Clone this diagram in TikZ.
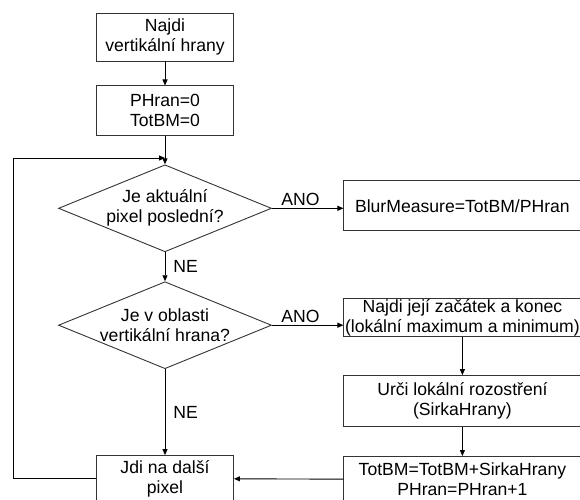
\documentclass[tikz,border=0pt]{standalone}
\usepackage{fontspec}
\setmainfont{Liberation Sans}
\usetikzlibrary{arrows.meta, positioning, shapes.geometric}

\begin{document}
\begin{tikzpicture}[
    x=1pt, y=-1pt,
    font=\fontsize{17.6}{20}\selectfont,
    box/.style={draw=black!80, rectangle, align=center, minimum width=137pt, minimum height=50pt, inner xsep=0pt, inner ysep=0pt},
    wide/.style={box, minimum width=237pt},
    decision/.style={draw=black!80, diamond, shape aspect=2.45, align=center, minimum width=213pt, minimum height=87pt, inner sep=-3pt},
    answer/.style={inner sep=2pt},
    line width=0.9pt, >={Triangle[length=6pt, width=5pt]}
]

\path[use as bounding box, clip] (0,0) rectangle (580,499);

\node[box, minimum height=48pt] (find) at (165,37) {Najdi\\vertikální hrany};
\node[box, below=24pt of find] (init) {PHran=0\\TotBM=0};
\node[decision, below=28pt of init] (last) {Je aktuální\\pixel poslední?};
\node[decision, below=29pt of last] (inside) {Je v oblasti\\vertikální hrana?};
\node[box, minimum height=46pt, below=86pt of inside] (next) {Jdi na další\\pixel};

\node[wide, right=71.5pt of last, yshift=2.5pt] (blur) {BlurMeasure=TotBM/PHran};
\node[wide, minimum height=38pt, right=71.5pt of inside, yshift=7.5pt] (ends) {Najdi její začátek a konec\\(lokální maximum a minimum)};
\node[wide, minimum height=51pt, below=38pt of ends] (spread) {Urči lokální rozostření\\(SirkaHrany)};
\node[wide, minimum height=46pt, below=29pt of spread] (total) {TotBM=TotBM+SirkaHrany\\PHran=PHran+1};

\coordinate (join) at (165,158);
\coordinate (corner) at (13,158);

\draw[->] (find) -- (init);
\draw[->] (init) -- (last);
\draw[->] (last.east) -- node[answer, above, pos=0.4] {ANO} (last.east -| blur.west);
\draw[->] (last) -- node[answer, right, xshift=6pt] {NE} (inside);
\draw[->] (inside.east) -- node[answer, above, pos=0.4] {ANO} (inside.east -| ends.west);
\draw[->] (inside) -- node[answer, right, xshift=6pt] {NE} (next);
\draw[->] (ends) -- (spread);
\draw[->] (spread) -- (total);
\draw[->] (total) -- (next);
\draw[->] (next.west) -| (corner) -- (join);

\end{tikzpicture}
\end{document}
